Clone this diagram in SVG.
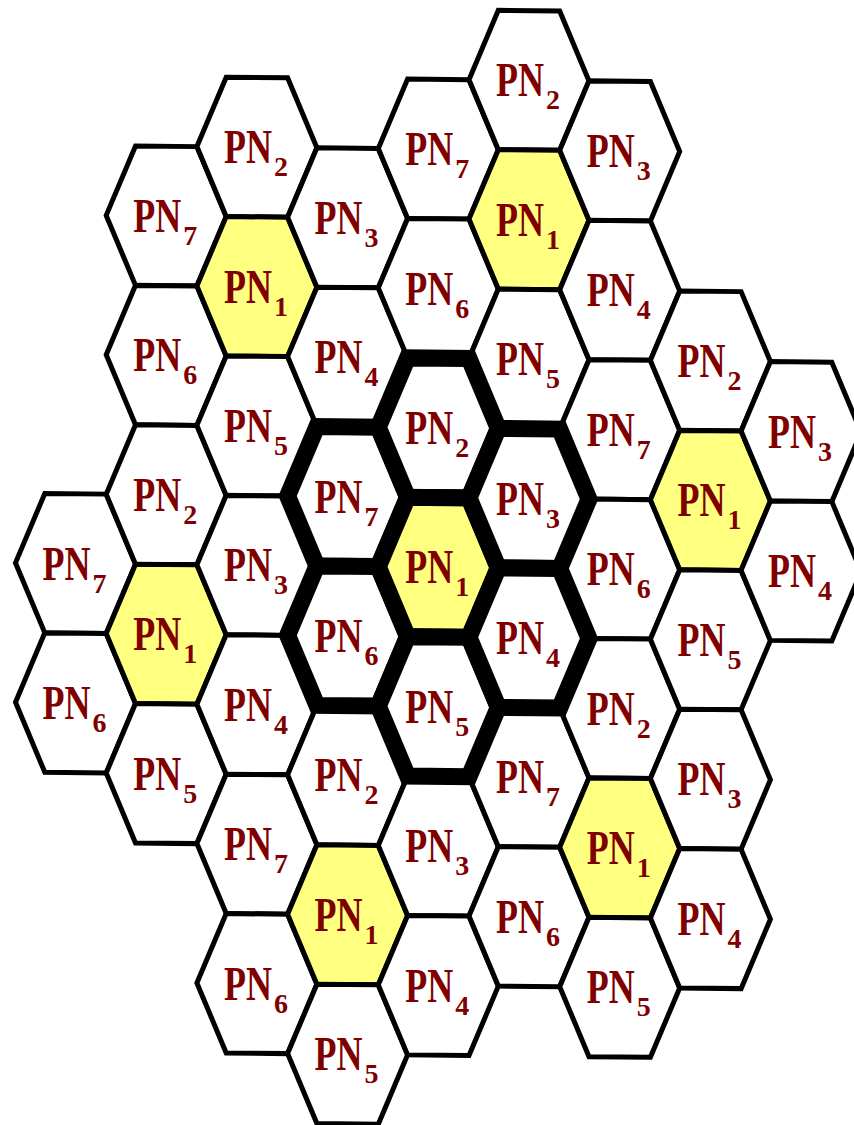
<svg xmlns="http://www.w3.org/2000/svg" xmlns:xlink="http://www.w3.org/1999/xlink" width="854" height="1125" viewBox="0 0 854 1125">
<style>
.h{fill:#fff;stroke:#000;stroke-width:5;stroke-linejoin:miter}
.y{fill:#ffff80}
.k{stroke-width:17}
.p{font-family:"Liberation Serif","Times New Roman",serif;font-weight:bold;font-size:36px;fill:#800000}
.s{font-family:"Liberation Serif","Times New Roman",serif;font-weight:bold;font-size:28px;fill:#800000}
</style>
<defs>
<polygon id="hx" points="-60,-0.62 -30.7,-70.02 30.7,-69.38 60,0.62 30.7,70.02 -30.7,69.38"/>
</defs>
<rect width="854" height="1125" fill="#fff"/>
<g id="cells">
<g id="A0"><use href="#hx" class="h" x="75.5" y="563.5"/><text class="p" transform="translate(42.5,579.5) scale(1,1.32)">PN</text><text class="s" x="92.5" y="592.5">7</text></g>
<g id="A2"><use href="#hx" class="h" x="75.5" y="702.9"/><text class="p" transform="translate(42.5,718.9) scale(1,1.32)">PN</text><text class="s" x="92.5" y="731.9">6</text></g>
<g id="B-5"><use href="#hx" class="h" x="166.2" y="216"/><text class="p" transform="translate(133.2,232) scale(1,1.32)">PN</text><text class="s" x="183.2" y="245">7</text></g>
<g id="B-3"><use href="#hx" class="h" x="166.2" y="355.4"/><text class="p" transform="translate(133.2,371.4) scale(1,1.32)">PN</text><text class="s" x="183.2" y="384.4">6</text></g>
<g id="B-1"><use href="#hx" class="h" x="166.2" y="494.8"/><text class="p" transform="translate(133.2,510.8) scale(1,1.32)">PN</text><text class="s" x="183.2" y="523.8">2</text></g>
<g id="B1"><use href="#hx" class="h y" x="166.2" y="634.2"/><text class="p" transform="translate(133.2,650.2) scale(1,1.32)">PN</text><text class="s" x="183.2" y="663.2">1</text></g>
<g id="B3"><use href="#hx" class="h" x="166.2" y="773.6"/><text class="p" transform="translate(133.2,789.6) scale(1,1.32)">PN</text><text class="s" x="183.2" y="802.6">5</text></g>
<g id="C-6"><use href="#hx" class="h" x="256.9" y="147.2"/><text class="p" transform="translate(223.9,163.2) scale(1,1.32)">PN</text><text class="s" x="273.9" y="176.2">2</text></g>
<g id="C-4"><use href="#hx" class="h y" x="256.9" y="286.6"/><text class="p" transform="translate(223.9,302.6) scale(1,1.32)">PN</text><text class="s" x="273.9" y="315.6">1</text></g>
<g id="C-2"><use href="#hx" class="h" x="256.9" y="426"/><text class="p" transform="translate(223.9,442) scale(1,1.32)">PN</text><text class="s" x="273.9" y="455">5</text></g>
<g id="C0"><use href="#hx" class="h" x="256.9" y="565.4"/><text class="p" transform="translate(223.9,581.4) scale(1,1.32)">PN</text><text class="s" x="273.9" y="594.4">3</text></g>
<g id="C2"><use href="#hx" class="h" x="256.9" y="704.8"/><text class="p" transform="translate(223.9,720.8) scale(1,1.32)">PN</text><text class="s" x="273.9" y="733.8">4</text></g>
<g id="C4"><use href="#hx" class="h" x="256.9" y="844.2"/><text class="p" transform="translate(223.9,860.2) scale(1,1.32)">PN</text><text class="s" x="273.9" y="873.2">7</text></g>
<g id="C6"><use href="#hx" class="h" x="256.9" y="983.6"/><text class="p" transform="translate(223.9,999.6) scale(1,1.32)">PN</text><text class="s" x="273.9" y="1012.6">6</text></g>
<g id="D-5"><use href="#hx" class="h" x="347.6" y="217.8"/><text class="p" transform="translate(314.6,233.8) scale(1,1.32)">PN</text><text class="s" x="364.6" y="246.8">3</text></g>
<g id="D-3"><use href="#hx" class="h" x="347.6" y="357.2"/><text class="p" transform="translate(314.6,373.2) scale(1,1.32)">PN</text><text class="s" x="364.6" y="386.2">4</text></g>
<g id="D3"><use href="#hx" class="h" x="347.6" y="775.4"/><text class="p" transform="translate(314.6,791.4) scale(1,1.32)">PN</text><text class="s" x="364.6" y="804.4">2</text></g>
<g id="D5"><use href="#hx" class="h y" x="347.6" y="914.8"/><text class="p" transform="translate(314.6,930.8) scale(1,1.32)">PN</text><text class="s" x="364.6" y="943.8">1</text></g>
<g id="D7"><use href="#hx" class="h" x="347.6" y="1054.2"/><text class="p" transform="translate(314.6,1070.2) scale(1,1.32)">PN</text><text class="s" x="364.6" y="1083.2">5</text></g>
<g id="E-6"><use href="#hx" class="h" x="438.3" y="149.1"/><text class="p" transform="translate(405.3,165.1) scale(1,1.32)">PN</text><text class="s" x="455.3" y="178.1">7</text></g>
<g id="E-4"><use href="#hx" class="h" x="438.3" y="288.5"/><text class="p" transform="translate(405.3,304.5) scale(1,1.32)">PN</text><text class="s" x="455.3" y="317.5">6</text></g>
<g id="E4"><use href="#hx" class="h" x="438.3" y="846.1"/><text class="p" transform="translate(405.3,862.1) scale(1,1.32)">PN</text><text class="s" x="455.3" y="875.1">3</text></g>
<g id="E6"><use href="#hx" class="h" x="438.3" y="985.5"/><text class="p" transform="translate(405.3,1001.5) scale(1,1.32)">PN</text><text class="s" x="455.3" y="1014.5">4</text></g>
<g id="F-7"><use href="#hx" class="h" x="529" y="80.3"/><text class="p" transform="translate(496,96.3) scale(1,1.32)">PN</text><text class="s" x="546" y="109.3">2</text></g>
<g id="F-5"><use href="#hx" class="h y" x="529" y="219.7"/><text class="p" transform="translate(496,235.7) scale(1,1.32)">PN</text><text class="s" x="546" y="248.7">1</text></g>
<g id="F-3"><use href="#hx" class="h" x="529" y="359.1"/><text class="p" transform="translate(496,375.1) scale(1,1.32)">PN</text><text class="s" x="546" y="388.1">5</text></g>
<g id="F3"><use href="#hx" class="h" x="529" y="777.3"/><text class="p" transform="translate(496,793.3) scale(1,1.32)">PN</text><text class="s" x="546" y="806.3">7</text></g>
<g id="F5"><use href="#hx" class="h" x="529" y="916.7"/><text class="p" transform="translate(496,932.7) scale(1,1.32)">PN</text><text class="s" x="546" y="945.7">6</text></g>
<g id="G-6"><use href="#hx" class="h" x="619.7" y="150.9"/><text class="p" transform="translate(586.7,166.9) scale(1,1.32)">PN</text><text class="s" x="636.7" y="179.9">3</text></g>
<g id="G-4"><use href="#hx" class="h" x="619.7" y="290.3"/><text class="p" transform="translate(586.7,306.3) scale(1,1.32)">PN</text><text class="s" x="636.7" y="319.3">4</text></g>
<g id="G-2"><use href="#hx" class="h" x="619.7" y="429.7"/><text class="p" transform="translate(586.7,445.7) scale(1,1.32)">PN</text><text class="s" x="636.7" y="458.7">7</text></g>
<g id="G0"><use href="#hx" class="h" x="619.7" y="569.1"/><text class="p" transform="translate(586.7,585.1) scale(1,1.32)">PN</text><text class="s" x="636.7" y="598.1">6</text></g>
<g id="G2"><use href="#hx" class="h" x="619.7" y="708.5"/><text class="p" transform="translate(586.7,724.5) scale(1,1.32)">PN</text><text class="s" x="636.7" y="737.5">2</text></g>
<g id="G4"><use href="#hx" class="h y" x="619.7" y="847.9"/><text class="p" transform="translate(586.7,863.9) scale(1,1.32)">PN</text><text class="s" x="636.7" y="876.9">1</text></g>
<g id="G6"><use href="#hx" class="h" x="619.7" y="987.3"/><text class="p" transform="translate(586.7,1003.3) scale(1,1.32)">PN</text><text class="s" x="636.7" y="1016.3">5</text></g>
<g id="H-3"><use href="#hx" class="h" x="710.4" y="361"/><text class="p" transform="translate(677.4,377) scale(1,1.32)">PN</text><text class="s" x="727.4" y="390">2</text></g>
<g id="H-1"><use href="#hx" class="h y" x="710.4" y="500.4"/><text class="p" transform="translate(677.4,516.4) scale(1,1.32)">PN</text><text class="s" x="727.4" y="529.4">1</text></g>
<g id="H1"><use href="#hx" class="h" x="710.4" y="639.8"/><text class="p" transform="translate(677.4,655.8) scale(1,1.32)">PN</text><text class="s" x="727.4" y="668.8">5</text></g>
<g id="H3"><use href="#hx" class="h" x="710.4" y="779.2"/><text class="p" transform="translate(677.4,795.2) scale(1,1.32)">PN</text><text class="s" x="727.4" y="808.2">3</text></g>
<g id="H5"><use href="#hx" class="h" x="710.4" y="918.6"/><text class="p" transform="translate(677.4,934.6) scale(1,1.32)">PN</text><text class="s" x="727.4" y="947.6">4</text></g>
<g id="I-2"><use href="#hx" class="h" x="801.1" y="431.6"/><text class="p" transform="translate(768.1,447.6) scale(1,1.32)">PN</text><text class="s" x="818.1" y="460.6">3</text></g>
<g id="I0"><use href="#hx" class="h" x="801.1" y="571"/><text class="p" transform="translate(768.1,587) scale(1,1.32)">PN</text><text class="s" x="818.1" y="600">4</text></g>
</g>
<g id="central-cluster">
<g id="D-1"><use href="#hx" class="h k" x="347.6" y="496.6"/><text class="p" transform="translate(314.6,512.6) scale(1,1.32)">PN</text><text class="s" x="364.6" y="525.6">7</text></g>
<g id="D1"><use href="#hx" class="h k" x="347.6" y="636"/><text class="p" transform="translate(314.6,652) scale(1,1.32)">PN</text><text class="s" x="364.6" y="665">6</text></g>
<g id="E-2"><use href="#hx" class="h k" x="438.3" y="427.9"/><text class="p" transform="translate(405.3,443.9) scale(1,1.32)">PN</text><text class="s" x="455.3" y="456.9">2</text></g>
<g id="E0"><use href="#hx" class="h y k" x="438.3" y="567.3"/><text class="p" transform="translate(405.3,583.3) scale(1,1.32)">PN</text><text class="s" x="455.3" y="596.3">1</text></g>
<g id="E2"><use href="#hx" class="h k" x="438.3" y="706.7"/><text class="p" transform="translate(405.3,722.7) scale(1,1.32)">PN</text><text class="s" x="455.3" y="735.7">5</text></g>
<g id="F-1"><use href="#hx" class="h k" x="529" y="498.5"/><text class="p" transform="translate(496,514.5) scale(1,1.32)">PN</text><text class="s" x="546" y="527.5">3</text></g>
<g id="F1"><use href="#hx" class="h k" x="529" y="637.9"/><text class="p" transform="translate(496,653.9) scale(1,1.32)">PN</text><text class="s" x="546" y="666.9">4</text></g>
</g>
</svg>
